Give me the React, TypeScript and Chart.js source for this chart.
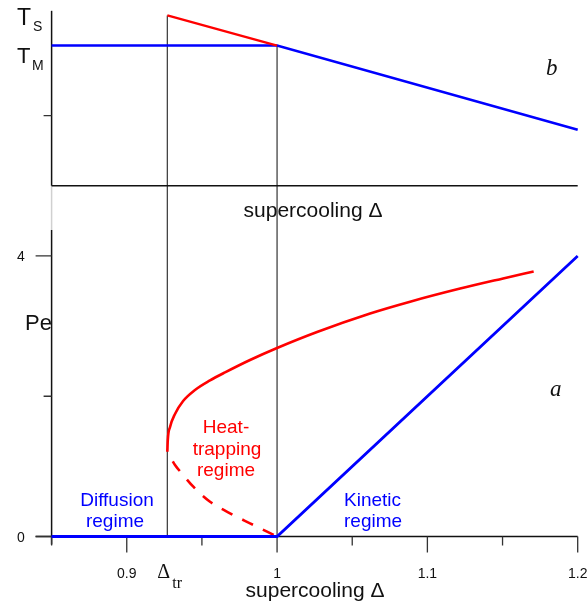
import React, { useEffect, useRef } from 'react';
import { Chart, registerables } from 'chart.js';

Chart.register(...registerables);

// ---------- data ----------
const deltaMin = 0.85;
const deltaMax = 1.2;
const peMin = 0;
const peMax = 7.5;
const tMin = -5;
const tMax = 2.5;
const peAxisTop = 4.37;

const xMajorTicks = [0.9, 1, 1.1, 1.2];
const xMajorLabels = ['0.9', '1', '1.1', '1.2'];
const xMinorTicks = [0.85, 0.95, 1.05, 1.15];
const peMajorTicks = [0, 4];
const peMajorLabels = ['0', '4'];
const peMinorTicks = [2];
const tMinorTicks = [1];

const deltaTr = 0.927;
const tMelt = 2.0;
const tSurf = 2.43;

// top panel (b): temperature
const tBlueDelta = [0.85, 1.0, 1.2];
const tBlueValue = [2.0, 2.0, 0.8];
const tRedDelta = [0.927, 1.0];
const tRedValue = [2.43, 2.0];

// bottom panel (a): Peclet number
const peBlueDelta = [0.85, 1.0, 1.2];
const peBlueValue = [0, 0, 4.0];

const peRedSolidDelta = [0.927, 0.9273, 0.9288, 0.9321, 0.9375, 0.9454, 0.9554, 0.9654, 0.982, 1.0, 1.0266, 1.0619, 1.0885, 1.1218, 1.1504, 1.1707];
const peRedSolidValue = [1.209, 1.376, 1.561, 1.747, 1.932, 2.089, 2.225, 2.34, 2.517, 2.688, 2.916, 3.18, 3.348, 3.535, 3.68, 3.78];

const peRedDashDelta = [0.927, 0.9321, 0.9366, 0.9443, 0.9554, 0.9687, 0.982, 1.0];
const peRedDashValue = [1.209, 1.02, 0.901, 0.71, 0.496, 0.331, 0.188, 0];

const zip = (xs: number[], ys: number[]) => xs.map((x, i) => ({ x, y: ys[i] }));

const SANS = '"Liberation Sans", Arial, Helvetica, sans-serif';
const SERIF = '"Liberation Serif", "Times New Roman", serif';
const BLUE = '#0000ff';
const RED = '#ff0000';

const framePlugin = {
  id: 'frame',
  beforeDatasetsDraw(chart: any) {
    const { ctx, scales } = chart;
    const x = scales.x, y = scales.y, yT = scales.yT;
    const px = (v: number) => x.getPixelForValue(v);
    const py = (v: number) => y.getPixelForValue(v);
    const pt = (v: number) => yT.getPixelForValue(v);
    const left = px(deltaMin), right = px(deltaMax);
    ctx.save();
    ctx.lineCap = 'butt';

    // vertical guide lines
    ctx.strokeStyle = '#444';
    ctx.lineWidth = 1.3;
    ctx.beginPath();
    ctx.moveTo(px(deltaTr), pt(tSurf));
    ctx.lineTo(px(deltaTr), py(0));
    ctx.moveTo(px(1), pt(tMelt));
    ctx.lineTo(px(1), py(0));
    ctx.stroke();

    // left axis: top panel
    ctx.strokeStyle = '#111';
    ctx.lineWidth = 1.5;
    ctx.beginPath();
    ctx.moveTo(left, pt(tMax) + 0.3);
    ctx.lineTo(left, pt(0));
    ctx.stroke();
    // gap segment
    ctx.strokeStyle = '#d0d0d0';
    ctx.beginPath();
    ctx.moveTo(left, pt(0));
    ctx.lineTo(left, py(peAxisTop));
    ctx.stroke();
    // bottom panel
    ctx.strokeStyle = '#111';
    ctx.beginPath();
    ctx.moveTo(left, py(peAxisTop));
    ctx.lineTo(left, py(0) + 8);
    ctx.stroke();

    // top panel baseline
    ctx.beginPath();
    ctx.moveTo(left, pt(0));
    ctx.lineTo(right, pt(0));
    ctx.stroke();
    // bottom x axis
    ctx.beginPath();
    ctx.moveTo(left - 16, py(0));
    ctx.lineTo(right, py(0));
    ctx.stroke();

    // ticks
    ctx.strokeStyle = '#333';
    ctx.lineWidth = 1.3;
    ctx.beginPath();
    xMajorTicks.forEach((v) => { ctx.moveTo(px(v), py(0)); ctx.lineTo(px(v), py(0) + 16); });
    xMinorTicks.forEach((v) => { ctx.moveTo(px(v), py(0)); ctx.lineTo(px(v), py(0) + 9); });
    peMajorTicks.forEach((v) => { ctx.moveTo(left, py(v)); ctx.lineTo(left - 16, py(v)); });
    peMinorTicks.forEach((v) => { ctx.moveTo(left, py(v)); ctx.lineTo(left - 8, py(v)); });
    tMinorTicks.forEach((v) => { ctx.moveTo(left, pt(v)); ctx.lineTo(left - 8, pt(v)); });
    ctx.stroke();
    ctx.restore();
  },
  afterDatasetsDraw(chart: any) {
    const { ctx, scales } = chart;
    const x = scales.x, y = scales.y, yT = scales.yT;
    const px = (v: number) => x.getPixelForValue(v);
    const py = (v: number) => y.getPixelForValue(v);
    const pt = (v: number) => yT.getPixelForValue(v);
    ctx.save();
    ctx.textBaseline = 'alphabetic';
    const text = (s: string, tx: number, ty: number, font: string, color: string, align: CanvasTextAlign = 'left') => {
      ctx.font = font;
      ctx.fillStyle = color;
      ctx.textAlign = align;
      ctx.fillText(s, tx, ty);
    };
    // tick labels
    xMajorTicks.forEach((v, i) => text(xMajorLabels[i], px(v), py(0) + 41, `14px ${SANS}`, '#111', 'center'));
    peMajorTicks.forEach((v, i) => text(peMajorLabels[i], 21, py(v) + 5.5, `14px ${SANS}`, '#111', 'center'));

    // axis titles
    text('supercooling \u0394', 315, 597, `21px ${SANS}`, '#111', 'center');
    text('supercooling \u0394', 313, 217, `21px ${SANS}`, '#111', 'center');
    text('Pe', 25, 330, `22px ${SANS}`, '#111', 'left');

    // T labels
    text('T', 17, pt(tSurf) + 10, `23px ${SANS}`, '#111');
    text('S', 33, pt(tSurf) + 16, `14px ${SANS}`, '#111');
    text('T', 17, pt(tMelt) + 17.5, `22px ${SANS}`, '#111');
    text('M', 32, pt(tMelt) + 24.5, `14px ${SANS}`, '#111');

    // Delta_tr
    text('\u0394', px(deltaTr) - 10, 578, `20px ${SERIF}`, '#111');
    text('tr', px(deltaTr) + 5, 588, `16px ${SERIF}`, '#111');

    // panel letters
    text('b', 546, 75, `italic 23px ${SERIF}`, '#111');
    text('a', 550, 396, `italic 23px ${SERIF}`, '#111');

    // regime labels
    const rf = `19px ${SANS}`;
    text('Diffusion', 117, 506, rf, BLUE, 'center');
    text('regime', 115, 527, rf, BLUE, 'center');
    text('Kinetic', 344, 506, rf, BLUE, 'left');
    text('regime', 344, 527, rf, BLUE, 'left');
    text('Heat-', 226, 433, rf, RED, 'center');
    text('trapping', 227, 455, rf, RED, 'center');
    text('regime', 226, 476, rf, RED, 'center');
    ctx.restore();
  },
};

export default function App() {
  const canvasRef = useRef<HTMLCanvasElement | null>(null);

  useEffect(() => {
    document.body.style.margin = '0';
    const canvas = canvasRef.current;
    if (!canvas) return;
    const line = (data: any[], color: string, width: number, yAxisID: string, smooth: boolean, dash: number[] = [], dashOffset = 0) => ({
      data,
      borderColor: color,
      backgroundColor: color,
      borderWidth: width,
      borderDash: dash,
      borderDashOffset: dashOffset,
      showLine: true,
      pointRadius: 0,
      tension: 0,
      cubicInterpolationMode: smooth ? 'monotone' : 'default',
      clip: false,
      yAxisID,
    });
    const chart = new Chart(canvas, {
      type: 'scatter',
      data: {
        datasets: [
          line(zip(tRedDelta, tRedValue), RED, 2.3, 'yT', false),
          line(zip(tBlueDelta, tBlueValue), BLUE, 2.5, 'yT', false),
          line(zip(peBlueDelta, peBlueValue), BLUE, 2.8, 'y', false),
          line(zip(peRedSolidDelta, peRedSolidValue), RED, 2.6, 'y', true),
          line(zip(peRedDashDelta, peRedDashValue), RED, 2.6, 'y', true, [12, 11], 12),
        ] as any,
      },
      options: {
        responsive: false,
        maintainAspectRatio: false,
        animation: false,
        events: [],
        layout: { padding: { left: 51.6, right: 9.3, top: 10.5, bottom: 76.5 } },
        plugins: { legend: { display: false }, tooltip: { enabled: false } },
        scales: {
          x: { type: 'linear', min: deltaMin, max: deltaMax, display: false },
          y: { type: 'linear', min: peMin, max: peMax, display: false },
          yT: { type: 'linear', min: tMin, max: tMax, display: false },
        },
      } as any,
      plugins: [framePlugin],
    });
    return () => chart.destroy();
  }, []);

  return (
    <div style={{ width: 587, height: 613, background: '#fff' }}>
      <canvas ref={canvasRef} width={587} height={613} style={{ display: 'block' }} />
    </div>
  );
}
